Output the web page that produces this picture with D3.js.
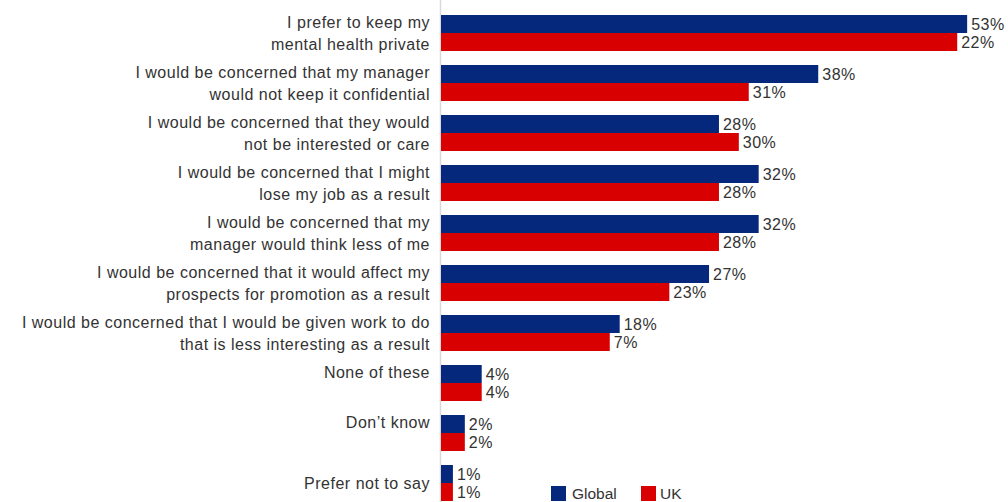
<!DOCTYPE html>
<html>
<head>
<meta charset="utf-8">
<script src="https://cdn.jsdelivr.net/npm/d3@7"></script>
<style>
  body { margin: 0; background: #fff; }
  text { font-family: "Liberation Sans", Arial, sans-serif; fill: #333; }
</style>
</head>
<body>
<div id="chart"></div>
<script>
const width = 1008;
const height = 502;

// category labels, one entry per line (a blank second line pushes the text up, as in the original)
const categories = [
  ["I prefer to keep my", "mental health private"],
  ["I would be concerned that my manager", "would not keep it confidential"],
  ["I would be concerned that they would", "not be interested or care"],
  ["I would be concerned that I might", "lose my job as a result"],
  ["I would be concerned that my", "manager would think less of me"],
  ["I would be concerned that it would affect my", "prospects for promotion as a result"],
  ["I would be concerned that I would be given work to do", "that is less interesting as a result"],
  ["None of these", ""],
  ["Don\u2019t know", ""],
  ["Prefer not to say"]
];

// bar lengths as drawn in the picture
const globalValues = [53, 38, 28, 32, 32, 27, 18, 4.1, 2.4, 1.2];
const ukValues     = [52, 31, 30, 28, 28, 23, 17, 4.1, 2.4, 1.2];

// value labels as printed in the picture
const globalLabels = ["53%", "38%", "28%", "32%", "32%", "27%", "18%", "4%", "2%", "1%"];
const ukLabels     = ["22%", "31%", "30%", "28%", "28%", "23%", "7%", "4%", "2%", "1%"];

const seriesNames = ["Global", "UK"];
const colors = ["#05287d", "#d80000"];

const svg = d3.select("#chart")
  .append("svg")
  .attr("width", width)
  .attr("height", height);

const x = d3.scaleLinear().domain([0, 55]).range([441, 441 + 546]);
const y = d3.scaleBand()
  .domain(d3.range(categories.length))
  .range([8, 508])
  .paddingInner(0.28)
  .paddingOuter(0.14);
const sub = d3.scaleBand().domain(seriesNames).range([0, y.bandwidth()]);

const rows = categories.map((c, i) => ({
  i,
  lines: c,
  series: [
    { name: "Global", value: globalValues[i], label: globalLabels[i] },
    { name: "UK", value: ukValues[i], label: ukLabels[i] }
  ]
}));

// axis line
svg.append("line")
  .attr("x1", x(0) - 0.5).attr("x2", x(0) - 0.5)
  .attr("y1", 0).attr("y2", height)
  .attr("stroke", "#d9d9d9")
  .attr("stroke-width", 1.5);

const row = svg.selectAll("g.row")
  .data(rows)
  .join("g")
  .attr("class", "row")
  .attr("transform", d => `translate(0,${y(d.i)})`);

row.selectAll("rect")
  .data(d => d.series)
  .join("rect")
  .attr("x", x(0))
  .attr("y", d => sub(d.name))
  .attr("width", d => x(d.value) - x(0))
  .attr("height", sub.bandwidth())
  .attr("fill", (d, j) => colors[j]);

row.selectAll("text.val")
  .data(d => d.series)
  .join("text")
  .attr("class", "val")
  .attr("x", d => x(d.value) + 4)
  .attr("y", d => sub(d.name) + sub.bandwidth() / 2)
  .attr("dy", "0.36em")
  .style("font-size", "16px")
  .style("letter-spacing", "0.5px")
  .text(d => d.label);

// category labels, centred on the pair of bars
const lineH = 21.5;
row.append("text")
  .attr("class", "cat")
  .attr("text-anchor", "end")
  .style("font-size", "16px")
  .style("letter-spacing", "0.5px")
  .each(function (d) {
    const n = d.lines.length;
    const t = d3.select(this);
    d.lines.forEach((line, k) => {
      t.append("tspan")
        .attr("x", 430)
        .attr("y", y.bandwidth() / 2 + (k - (n - 1) / 2) * lineH)
        .attr("dy", "0.36em")
        .text(line);
    });
  });

// legend
const legend = svg.append("g")
  .selectAll("g")
  .data(seriesNames)
  .join("g")
  .attr("transform", (d, i) => `translate(${[551, 641][i]},486)`);

legend.append("rect")
  .attr("width", 15)
  .attr("height", 15)
  .attr("fill", (d, i) => colors[i]);

legend.append("text")
  .attr("x", d => d === "Global" ? 21 : 19)
  .attr("y", 7.5)
  .attr("dy", "0.36em")
  .style("font-size", "15.5px")
  .text(d => d);
</script>
</body>
</html>
